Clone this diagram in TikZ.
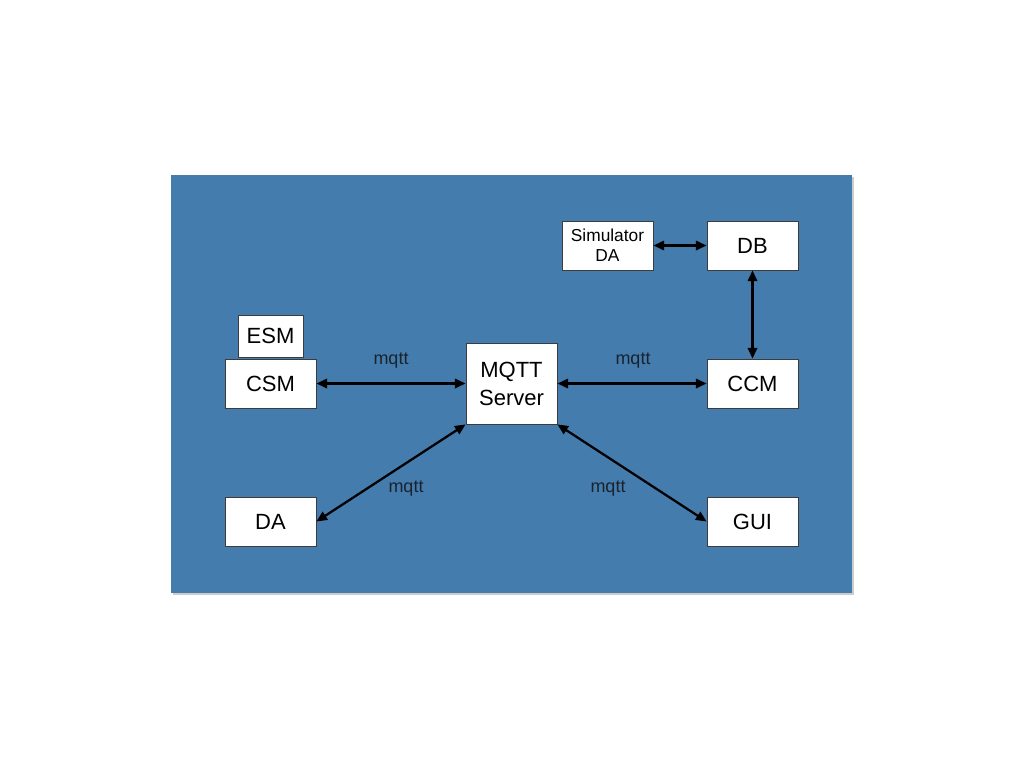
\documentclass[tikz,border=0pt]{standalone}
\usepackage{fontspec}
\setmainfont{Liberation Sans}
\usetikzlibrary{arrows.meta}
\definecolor{bgblue}{RGB}{69,124,174}
\definecolor{boxline}{RGB}{60,60,60}
\definecolor{lbltext}{RGB}{25,35,45}
\begin{document}
\begin{tikzpicture}[x=0.75pt,y=-0.75pt,
  box/.style={draw=boxline,line width=0.6pt,fill=white,inner sep=0pt,align=center,font=\fontsize{16.5}{18}\selectfont},
  link/.style={line width=1.7pt,{Triangle[length=8pt,width=7pt]}-{Triangle[length=8pt,width=7pt]}},
  lbl/.style={font=\fontsize{13.5}{15}\selectfont,text=lbltext}]
\useasboundingbox (0,0) rectangle (1024,768);
\fill[white] (0,0) rectangle (1024,768);
\fill[black!20] (172.5,176.5) rectangle (853.5,594.5);
\fill[bgblue] (171,175) rectangle (852,593);
% boxes
\node[box,minimum width=91*0.75pt,minimum height=49*0.75pt,font=\fontsize{13}{15}\selectfont] (sim) at (607.5,245.5) {Simulator\\DA};
\node[box,minimum width=91*0.75pt,minimum height=49*0.75pt] (db) at (752.5,245.5) {DB};
\node[box,minimum width=65*0.75pt,minimum height=42*0.75pt] (esm) at (270.5,336) {ESM};
\node[box,minimum width=91*0.75pt,minimum height=49*0.75pt] (csm) at (270.5,383.5) {CSM};
\node[box,minimum width=91*0.75pt,minimum height=81*0.75pt,font=\fontsize{16.5}{21}\selectfont] (mqtt) at (511.5,383.5) {MQTT\\Server};
\node[box,minimum width=91*0.75pt,minimum height=49*0.75pt] (ccm) at (752.5,383.5) {CCM};
\node[box,minimum width=91*0.75pt,minimum height=49*0.75pt] (da) at (270.5,521.5) {DA};
\node[box,minimum width=91*0.75pt,minimum height=49*0.75pt] (gui) at (752.5,521.5) {GUI};
% connectors
\draw[link] (sim.east) -- (db.west);
\draw[link] (db.south) -- (ccm.north);
\draw[link] (csm.east) -- (csm.east -| mqtt.west);
\draw[link] (mqtt.east |- ccm.west) -- (ccm.west);
\draw[link] (mqtt.south west) -- (da.east);
\draw[link] (mqtt.south east) -- (gui.west);
% labels
\node[lbl] (l1) at (391,361) {mqtt};
\node[lbl] (l2) at (633,361) {mqtt};
\node[lbl] (l3) at (406,489) {mqtt};
\node[lbl] (l4) at (608,489) {mqtt};
\end{tikzpicture}
\end{document}
